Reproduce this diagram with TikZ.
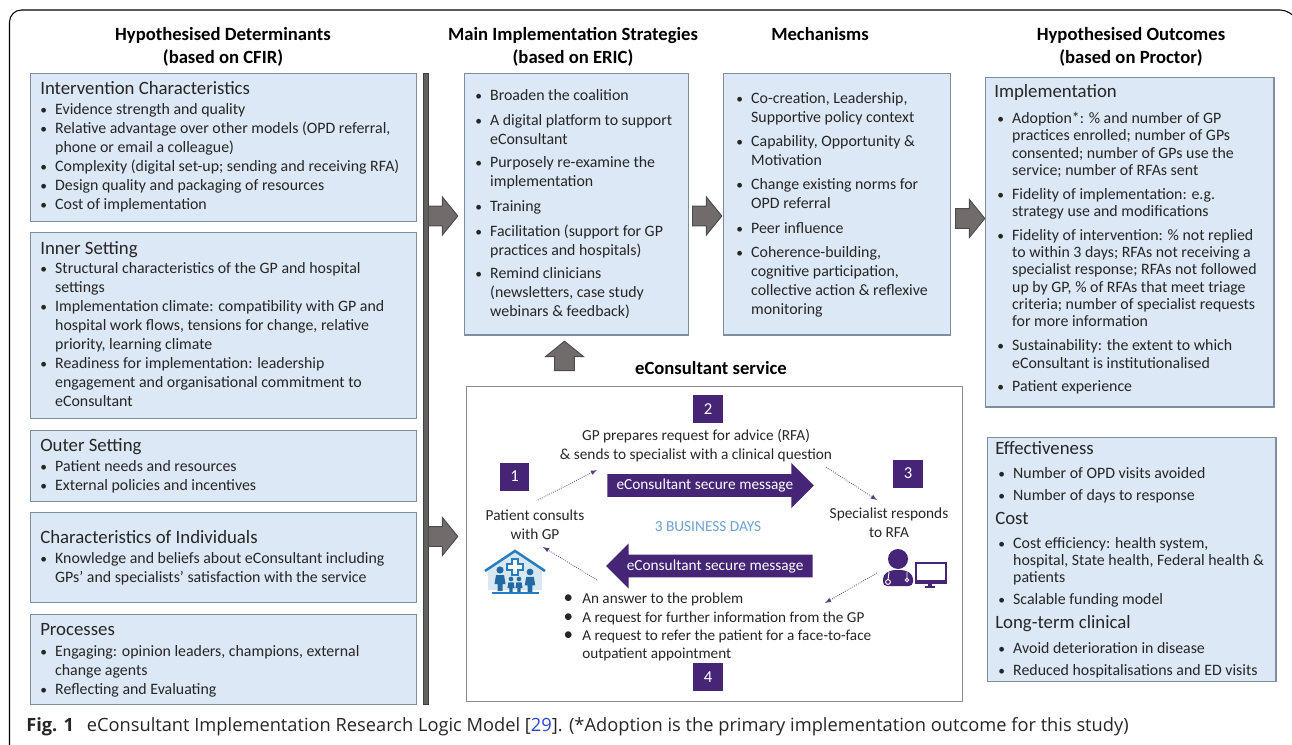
\documentclass[tikz,border=0pt]{standalone}
\usepackage{fontspec}
\usepackage{graphicx}
\setmainfont{Carlito}
\newfontfamily\capfont{Open Sans}
\usetikzlibrary{arrows,shapes.arrows,positioning}
\tikzset{>=latex}
\definecolor{boxfill}{RGB}{220,232,245}
\definecolor{boxedge}{RGB}{125,142,160}
\definecolor{inktext}{RGB}{38,38,38}
\definecolor{arrowgray}{RGB}{113,108,107}
\definecolor{darkpurple}{RGB}{70,36,118}
\definecolor{housblue}{RGB}{40,125,190}
\definecolor{daysblue}{RGB}{110,160,210}
\definecolor{citeblue}{RGB}{40,70,220}
\tikzset{
    infobox/.style={draw=boxedge,fill=boxfill,line width=1pt,anchor=north west,inner sep=0pt},
    boxhead/.style={anchor=north west,inner sep=0pt,text=inktext,font=\fontsize{14.1}{16}\selectfont},
    boxlist/.style={anchor=north west,inner sep=0pt,align=left,text=inktext,font=\fontsize{11.9}{14.25}\selectfont},
    implist/.style={boxlist,font=\fontsize{11.9}{13}\selectfont},
    colhead/.style={inner sep=0pt,align=center,text=black,font=\fontsize{14}{17.2}\selectfont\bfseries},
    flowtext/.style={inner sep=0pt,align=center,text=inktext,font=\fontsize{11.5}{14.25}\selectfont},
    numsq/.style={fill=darkpurple,inner sep=0pt,minimum width=22pt,minimum height=21pt,text=white,font=\fontsize{12.5}{14}\selectfont},
    grayarrow/.style={single arrow,draw=black!70,fill=arrowgray,line width=.7pt,anchor=tail,inner xsep=0pt,inner ysep=7.1pt,
        minimum height=22pt,single arrow head extend=6.8pt,single arrow tip angle=102},
    msgarrow/.style={single arrow,fill=darkpurple,anchor=tail,inner xsep=0pt,inner ysep=0pt,text=white,
        text height=11.6pt,text depth=5.2pt,minimum height=155pt,single arrow head extend=8.4pt,single arrow tip angle=90,
        font=\fontsize{11.5}{13}\selectfont},
    dotarrow/.style={->,densely dotted,draw=darkpurple!70!gray,line width=.6pt},
}
\newcommand{\bl}{\makebox[11.2pt][l]{\scalebox{.85}{\textbullet}}}
\newcommand{\ind}{\hspace*{11.2pt}}
\newcommand{\bigbl}{\makebox[16.5pt][l]{\hspace{2.5pt}\scalebox{1.25}{\textbullet}}}

\begin{document}
\begin{tikzpicture}[x=.75pt,y=-.75pt]
    \clip (0,0) rectangle (1292,745);
    \draw[line width=.8pt,rounded corners=9pt] (9.5,750) -- (9.5,10) -- (1292,10) -- (1297,20);

    % column heads
    \node[colhead] (headDet) at (223,46.5) {Hypothesised Determinants\\(based on CFIR)};
    \node[colhead] (headStr) at (573,46.5) {Main Implementation Strategies\\(based on ERIC)};
    \node[colhead] (headMec) at (820,34) {Mechanisms};
    \node[colhead] (headOut) at (1131,46.5) {Hypothesised Outcomes\\(based on Proctor)};

    % determinants
    \node[infobox,minimum width=289.5pt,minimum height=111pt] (inter) at (30,73) {};
    \node[infobox,minimum width=289.5pt,minimum height=139.5pt] (inner) at (30,232) {};
    \node[infobox,minimum width=289.5pt,minimum height=53pt] (outer) at (30,430) {};
    \node[infobox,minimum width=289.5pt,minimum height=67.5pt] (indiv) at (30,512) {};
    \node[infobox,minimum width=289.5pt,minimum height=67.5pt] (proc) at (30,614) {};

    \node[boxhead] (interHead) at (40,81) {Intervention Characteristics};
    \node[boxlist] (interList) at (40,103) {\bl Evidence strength and quality\\
        \bl Relative advantage over other models (OPD referral,\\
        \ind phone or email a colleague)\\
        \bl Complexity (digital set-up; sending and receiving RFA)\\
        \bl Design quality and packaging of resources\\
        \bl Cost of implementation};
    \node[boxhead] (innerHead) at (40,241) {Inner Setting};
    \node[boxlist] (innerList) at (40,262) {\bl Structural characteristics of the GP and hospital\\
        \ind settings\\
        \bl Implementation climate: compatibility with GP and\\
        \ind hospital work flows, tensions for change, relative\\
        \ind priority, learning climate\\
        \bl Readiness for implementation: leadership\\
        \ind engagement and organisational commitment to\\
        \ind eConsultant};
    \node[boxhead] (outerHead) at (40,438) {Outer Setting};
    \node[boxlist] (outerList) at (40,460) {\bl Patient needs and resources\\
        \bl External policies and incentives};
    \node[boxhead] (indivHead) at (40,530) {Characteristics of Individuals};
    \node[boxlist] (indivList) at (40,552) {\bl Knowledge and beliefs about eConsultant including\\
        \ind GPs’ and specialists’ satisfaction with the service};
    \node[boxhead] (procHead) at (40,623) {Processes};
    \node[boxlist] (procList) at (40,645) {\bl Engaging: opinion leaders, champions, external\\
        \ind change agents\\
        \bl Reflecting and Evaluating};

    \node[fill=black!62,draw=black!75,line width=.6pt,minimum width=3.6pt,minimum height=473pt,inner sep=0pt,anchor=north west] (bar) at (423,73) {};

    % strategies and mechanisms
    \node[infobox,minimum width=168pt,minimum height=196pt] (strat) at (464,73) {};
    \node[boxlist] (stratList) at (475,89) {\bl Broaden the coalition\\[4.4pt]
        \bl \makebox[136.5pt][s]{A digital platform to support}\\
        \ind eConsultant\\[3.4pt]
        \bl Purposely re-examine the\\
        \ind implementation\\[4.4pt]
        \bl Training\\[4.4pt]
        \bl Facilitation (support for GP\\
        \ind practices and hospitals)\\[3.4pt]
        \bl Remind clinicians\\
        \ind (newsletters, case study\\
        \ind webinars \& feedback)};
    \node[infobox,minimum width=170pt,minimum height=196pt] (mech) at (723,73) {};
    \node[boxlist] (mechList) at (736,92) {\bl Co-creation, Leadership,\\
        \ind Supportive policy context\\[4pt]
        \bl Capability, Opportunity \&\\
        \ind Motivation\\[4pt]
        \bl Change existing norms for\\
        \ind OPD referral\\[4pt]
        \bl Peer influence\\[4pt]
        \bl Coherence-building,\\
        \ind cognitive participation,\\
        \ind collective action \& reflexive\\
        \ind monitoring};

    % outcomes
    \node[infobox,minimum width=216.5pt,minimum height=247pt] (impl) at (984.5,77) {};
    \node[boxhead] (implHead) at (994,84) {Implementation};
    \node[implist] (implList) at (997,112) {\bl Adoption*: \% and number of GP\\
        \ind practices enrolled; number of GPs\\
        \ind consented; number of GPs use the\\
        \ind service; number of RFAs sent\\[4.8pt]
        \bl Fidelity of implementation: e.g.\\
        \ind strategy use and modifications\\[4.8pt]
        \bl Fidelity of intervention: \% not replied\\
        \ind to within 3 days; RFAs not receiving a\\
        \ind specialist response; RFAs not followed\\
        \ind up by GP, \% of RFAs that meet triage\\
        \ind criteria; number of specialist requests\\
        \ind for more information\\[4.8pt]
        \bl Sustainability: the extent to which\\
        \ind eConsultant is institutionalised\\[4.8pt]
        \bl Patient experience};
    \node[infobox,minimum width=216.5pt,minimum height=183pt] (effect) at (986.5,437) {};
    \node[boxhead] (effHead) at (995,441) {Effectiveness};
    \node[implist] (effList) at (998,467) {\bl Number of OPD visits avoided\\[3.5pt]
        \bl Number of days to response};
    \node[boxhead] (costHead) at (995,512) {Cost};
    \node[implist] (costList) at (998,537) {\bl Cost efficiency: health system,\\
        \ind hospital, State health, Federal health \&\\
        \ind patients\\[3pt]
        \bl Scalable funding model};
    \node[boxhead] (longHead) at (995,615) {Long-term clinical};
    \node[implist] (longList) at (998,642) {\bl Avoid deterioration in disease\\[3.5pt]
        \bl Reduced hospitalisations and ED visits};

    % block arrows
    \node[grayarrow] (arrowDetA) at (428,216) {};
    \node[grayarrow] (arrowDetB) at (428,536.5) {};
    \node[grayarrow] (arrowStr) at (692,216) {};
    \node[grayarrow] (arrowMec) at (955,218.5) {};
    \node[grayarrow,shape border rotate=90,inner xsep=7.1pt,inner ysep=0pt] (arrowSvc) at (564.5,371) {};

    % eConsultant service
    \node[colhead] (svcHead) at (711,368) {eConsultant service};
    \node[draw=black!45,line width=.9pt,minimum width=372pt,minimum height=236pt,inner sep=0pt,anchor=north west] (svc) at (466,386) {};
    \node[numsq] (numOne) at (514.5,476.5) {1};
    \node[numsq] (numTwo) at (708,409) {2};
    \node[numsq] (numThree) at (908,473.5) {3};
    \node[numsq] (numFour) at (708,677) {4};
    \node[flowtext] (gpText) at (696,445.5) {GP prepares request for advice (RFA)\\\& sends to specialist with a clinical question};
    \node[flowtext] (patText) at (535,524.5) {Patient consults\\with GP};
    \node[flowtext] (speText) at (889,523) {Specialist responds\\to RFA};
    \node[flowtext,text=daysblue] (daysText) at (708,527) {3 BUSINESS DAYS};
    \node[msgarrow] (msgRight) at (607,485.5) {eConsultant secure message};
    \node[msgarrow,shape border rotate=180] (msgLeft) at (813,566) {eConsultant secure message};
    \node[boxlist,font=\fontsize{11.4}{13.75}\selectfont] (replyList) at (560,593) {\bigbl An answer to the problem\\
        \bigbl A request for further information from the GP\\
        \bigbl A request to refer the patient for a face-to-face\\
        \hspace*{16.5pt}outpatient appointment};

    \coordinate (flowA) at (538,500);
    \coordinate (flowB) at (597,470);
    \coordinate (flowC) at (826,467);
    \coordinate (flowD) at (877,500);
    \coordinate (flowE) at (877,573);
    \coordinate (flowF) at (825,603);
    \coordinate (flowG) at (597,580);
    \coordinate (flowH) at (543,547);
    \draw[dotarrow] (flowA) -- (flowB);
    \draw[dotarrow] (flowC) -- (flowD);
    \draw[dotarrow] (flowE) -- (flowF);
    \draw[dotarrow] (flowG) -- (flowH);

    % clinic icon
    \fill[housblue!18] (488,571) -- (515,553) -- (542,571) -- (542,590) -- (488,590) -- cycle;
    \draw[housblue,line width=1.9pt] (485,571) -- (515,551) -- (545,571);
    \draw[housblue,fill=white,line width=.9pt] (512,559) -- (518,559) -- (518,564) -- (523,564) -- (523,570) -- (518,570) -- (518,575) -- (512,575) -- (512,570) -- (507,570) -- (507,564) -- (512,564) -- cycle;
    \foreach \px/\py/\ps in {500/570/1,511/579/.65,519/579/.65,530/572/.95}{
        \fill[housblue!85!black] (\px,\py) circle[radius=3.6*\ps];
        \fill[housblue!85!black] (\px-5.5*\ps,\py+14*\ps) -- (\px-4*\ps,\py+5*\ps) -- (\px+4*\ps,\py+5*\ps) -- (\px+5.5*\ps,\py+14*\ps) -- (\px+2.5*\ps,\py+14*\ps) -- (\px+2.5*\ps,\py+21*\ps) -- (\px-2.5*\ps,\py+21*\ps) -- (\px-2.5*\ps,\py+14*\ps) -- cycle;
    }
    \draw[housblue,line width=1.8pt] (492,593) -- (539,593);

    % doctor icon
    \fill[darkpurple] (898,559) circle[radius=10];
    \fill[darkpurple,rounded corners=3pt] (883,586) -- (883,575) -- (891,570) -- (905,570) -- (913,575) -- (913,586) -- cycle;
    \draw[white,line width=.7pt] (889,572) -- (888,580) (907,572) -- (907,578);
    \draw[white,line width=.7pt] (888,582) circle[radius=2.4];
    \draw[white,line width=.7pt] (907,580) circle[radius=1.8];
    \draw[darkpurple,line width=1.5pt,fill=white] (915.5,562.5) rectangle (945.5,581);
    \fill[darkpurple] (914.5,580) rectangle (946.5,583.5);
    \fill[darkpurple] (928,583) rectangle (932,586);
    \fill[darkpurple] (925,586) rectangle (935,587.5);

    % caption
    \node[anchor=base west,inner sep=0pt,text=inktext,font=\capfont\fontsize{13.7}{16}\selectfont] (caption) at (26,731) {\textbf{Fig. 1}\hspace{9.5pt}eConsultant Implementation Research Logic Model [\textcolor{citeblue}{29}]. (*Adoption is the primary implementation outcome for this study)};
\end{tikzpicture}
\end{document}
